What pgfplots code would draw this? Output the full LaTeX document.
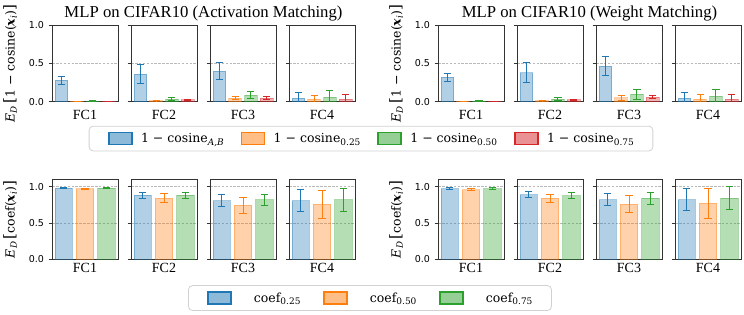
\documentclass[border=0pt]{standalone}
\usepackage{fontspec}
\setmainfont{Liberation Serif}
\newfontfamily\djsans{DejaVu Sans}
\newfontfamily\djserif{DejaVu Serif}
\usepackage{pgfplots}
\pgfplotsset{compat=1.18}
\definecolor{tabblue}{HTML}{1F77B4}
\definecolor{taborange}{HTML}{FF7F0E}
\definecolor{tabgreen}{HTML}{2CA02C}
\definecolor{tabred}{HTML}{D62728}
\pgfplotsset{
 bb/.style={ybar, bar width=0.8, bar shift=0pt, draw=#1, draw opacity=0.4, fill=#1, fill opacity=0.35, line width=0.8pt,
  legend image code/.code={\draw[sharp corners, fill=#1, fill opacity=0.5, draw=#1, draw opacity=1, line width=1.4pt] (0pt,-6pt) rectangle (23pt,6pt);},
  error bars/.cd, y dir=both, y explicit,
  error bar style={draw=#1, draw opacity=1, line width=0.9pt},
  error mark options={draw=#1, draw opacity=1, line width=0.9pt, mark size=3.6pt, rotate=90}},
 common/.style={scale only axis, width=66pt, anchor=south west, xtick=\empty, ytick={0,0.5,1}, ytick pos=left,
  tick align=outside, major tick length=3.5pt, tick style={black!80, line width=0.8pt},
  axis line style={black!80, line width=0.8pt}, ymajorgrids,
  major grid style={gray!55, dash pattern=on 2.6pt off 1.3pt, line width=0.6pt},
  yticklabels={},
  xlabel style={font=\fontsize{14}{14}\selectfont, at={(axis description cs:0.5,0)}, anchor=north, inner sep=0pt}},
 toprow/.style={common, height=76.7pt, ymin=0, ymax=1, xmin=-0.59, xmax=3.59, xlabel style={yshift=-8pt}},
 botrow/.style={common, height=80pt, ymin=0, ymax=1.1, xmin=-0.54, xmax=2.54, xlabel style={yshift=-4pt}},
 first/.style={yticklabels={0.0,0.5,1.0}, yticklabel style={font=\djsans\fontsize{9.5}{10}\selectfont, inner xsep=0pt, xshift=-4.3pt},
  ylabel style={font=\djserif\fontsize{12.5}{13}\selectfont, at={(axis description cs:-0.636,0.5)}, anchor=center}},
 leg/.style={legend style={at={(axis description cs:#1)}, anchor=center, draw=black!18, line width=0.8pt, rounded corners=4pt, fill=white,
  font=\djserif\fontsize{12.5}{13}\selectfont, inner xsep=19pt, inner ysep=5pt, legend cell align=left,
  nodes={inner xsep=0pt, inner ysep=2pt}}},
}
\newcommand{\brk}[1]{{\fontsize{15}{15}\selectfont #1}}
\newcommand{\sub}[1]{\raisebox{-2.6pt}{\fontsize{9}{9}\selectfont #1}}
\begin{document}
\begin{tikzpicture}
\node[font=\fontsize{16.7}{18}\selectfont, anchor=base] at (203.5pt,297pt) {MLP on CIFAR10 (Activation Matching)};
\node[font=\fontsize{16.7}{18}\selectfont, anchor=base] at (589.5pt,297pt) {MLP on CIFAR10 (Weight Matching)};

% ===== Top row, Activation Matching =====
\begin{axis}[toprow, first, at={(52pt,213.3pt)}, xlabel={FC1},
  ylabel={\textit{E}\textsubscript{\textit{D}}\,\brk{[}1 − cosine(\textbf{\textit{x}}\textsubscript{\textit{i}})\brk{]}},
  leg={4.833,-0.4805}, legend columns=4,
  legend style={/tikz/every odd column/.style={column sep=8.5pt}, /tikz/every even column/.style={column sep=17pt}}]
\addplot[bb=tabblue] coordinates {(0,0.28) +- (0,0.05)};
\addlegendentry{1 − cosine\sub{\textit{A,B}}}
\addplot[bb=taborange] coordinates {(1,0.004) +- (0,0.002)};
\addlegendentry{1 − cosine\sub{0.25}}
\addplot[bb=tabgreen] coordinates {(2,0.01) +- (0,0.003)};
\addlegendentry{1 − cosine\sub{0.50}}
\addplot[bb=tabred] coordinates {(3,0.005) +- (0,0.002)};
\addlegendentry{1 − cosine\sub{0.75}}
\end{axis}
\begin{axis}[toprow, at={(131pt,213.3pt)}, xlabel={FC2}]
\addplot[bb=tabblue] coordinates {(0,0.36) +- (0,0.12)};
\addplot[bb=taborange] coordinates {(1,0.015) +- (0,0.005)};
\addplot[bb=tabgreen] coordinates {(2,0.035) +- (0,0.022)};
\addplot[bb=tabred] coordinates {(3,0.025) +- (0,0.01)};
\end{axis}
\begin{axis}[toprow, at={(210pt,213.3pt)}, xlabel={FC3}]
\addplot[bb=tabblue] coordinates {(0,0.40) +- (0,0.11)};
\addplot[bb=taborange] coordinates {(1,0.045) +- (0,0.022)};
\addplot[bb=tabgreen] coordinates {(2,0.088) +- (0,0.047)};
\addplot[bb=tabred] coordinates {(3,0.048) +- (0,0.02)};
\end{axis}
\begin{axis}[toprow, at={(289pt,213.3pt)}, xlabel={FC4}]
\addplot[bb=tabblue] coordinates {(0,0.048) +- (0,0.073)};
\addplot[bb=taborange] coordinates {(1,0.035) +- (0,0.05)};
\addplot[bb=tabgreen] coordinates {(2,0.06) +- (0,0.092)};
\addplot[bb=tabred] coordinates {(3,0.035) +- (0,0.055)};
\end{axis}

% ===== Top row, Weight Matching =====
\begin{axis}[toprow, first, at={(438pt,213.3pt)}, xlabel={FC1},
  ylabel={\textit{E}\textsubscript{\textit{D}}\,\brk{[}1 − cosine(\textbf{\textit{x}}\textsubscript{\textit{i}})\brk{]}}]
\addplot[bb=tabblue] coordinates {(0,0.317) +- (0,0.057)};
\addplot[bb=taborange] coordinates {(1,0.003) +- (0,0.002)};
\addplot[bb=tabgreen] coordinates {(2,0.008) +- (0,0.003)};
\addplot[bb=tabred] coordinates {(3,0.004) +- (0,0.002)};
\end{axis}
\begin{axis}[toprow, at={(517pt,213.3pt)}, xlabel={FC2}]
\addplot[bb=tabblue] coordinates {(0,0.38) +- (0,0.133)};
\addplot[bb=taborange] coordinates {(1,0.015) +- (0,0.005)};
\addplot[bb=tabgreen] coordinates {(2,0.035) +- (0,0.024)};
\addplot[bb=tabred] coordinates {(3,0.025) +- (0,0.01)};
\end{axis}
\begin{axis}[toprow, at={(596pt,213.3pt)}, xlabel={FC3}]
\addplot[bb=tabblue] coordinates {(0,0.465) +- (0,0.122)};
\addplot[bb=taborange] coordinates {(1,0.052) +- (0,0.035)};
\addplot[bb=tabgreen] coordinates {(2,0.096) +- (0,0.064)};
\addplot[bb=tabred] coordinates {(3,0.06) +- (0,0.02)};
\end{axis}
\begin{axis}[toprow, at={(675pt,213.3pt)}, xlabel={FC4}]
\addplot[bb=tabblue] coordinates {(0,0.048) +- (0,0.07)};
\addplot[bb=taborange] coordinates {(1,0.035) +- (0,0.055)};
\addplot[bb=tabgreen] coordinates {(2,0.07) +- (0,0.095)};
\addplot[bb=tabred] coordinates {(3,0.035) +- (0,0.06)};
\end{axis}

% ===== Bottom row, Activation Matching =====
\begin{axis}[botrow, first, at={(52pt,55.7pt)}, xlabel={FC1},
  ylabel={\textit{E}\textsubscript{\textit{D}}\,\brk{[}coef(\textbf{\textit{x}}\textsubscript{\textit{i}})\brk{]}},
  leg={4.818,-0.484}, legend columns=3,
  legend style={/tikz/every odd column/.style={column sep=22pt}, /tikz/every even column/.style={column sep=23pt}}]
\addplot[bb=tabblue] coordinates {(0,0.977) +- (0,0.008)};
\addlegendentry{coef\sub{0.25}}
\addplot[bb=taborange] coordinates {(1,0.968) +- (0,0.01)};
\addlegendentry{coef\sub{0.50}}
\addplot[bb=tabgreen] coordinates {(2,0.977) +- (0,0.008)};
\addlegendentry{coef\sub{0.75}}
\end{axis}
\begin{axis}[botrow, at={(131pt,55.7pt)}, xlabel={FC2}]
\addplot[bb=tabblue] coordinates {(0,0.881) +- (0,0.043)};
\addplot[bb=taborange] coordinates {(1,0.84) +- (0,0.06)};
\addplot[bb=tabgreen] coordinates {(2,0.881) +- (0,0.041)};
\end{axis}
\begin{axis}[botrow, at={(210pt,55.7pt)}, xlabel={FC3}]
\addplot[bb=tabblue] coordinates {(0,0.808) +- (0,0.08)};
\addplot[bb=taborange] coordinates {(1,0.744) +- (0,0.108)};
\addplot[bb=tabgreen] coordinates {(2,0.817) +- (0,0.08)};
\end{axis}
\begin{axis}[botrow, at={(289pt,55.7pt)}, xlabel={FC4}]
\addplot[bb=tabblue] coordinates {(0,0.808) +- (0,0.148)};
\addplot[bb=taborange] coordinates {(1,0.758) +- (0,0.19)};
\addplot[bb=tabgreen] coordinates {(2,0.817) +- (0,0.155)};
\end{axis}

% ===== Bottom row, Weight Matching =====
\begin{axis}[botrow, first, at={(438pt,55.7pt)}, xlabel={FC1},
  ylabel={\textit{E}\textsubscript{\textit{D}}\,\brk{[}coef(\textbf{\textit{x}}\textsubscript{\textit{i}})\brk{]}}]
\addplot[bb=tabblue] coordinates {(0,0.973) +- (0,0.01)};
\addplot[bb=taborange] coordinates {(1,0.959) +- (0,0.012)};
\addplot[bb=tabgreen] coordinates {(2,0.973) +- (0,0.01)};
\end{axis}
\begin{axis}[botrow, at={(517pt,55.7pt)}, xlabel={FC2}]
\addplot[bb=tabblue] coordinates {(0,0.89) +- (0,0.04)};
\addplot[bb=taborange] coordinates {(1,0.836) +- (0,0.06)};
\addplot[bb=tabgreen] coordinates {(2,0.877) +- (0,0.045)};
\end{axis}
\begin{axis}[botrow, at={(596pt,55.7pt)}, xlabel={FC3}]
\addplot[bb=tabblue] coordinates {(0,0.822) +- (0,0.082)};
\addplot[bb=taborange] coordinates {(1,0.758) +- (0,0.115)};
\addplot[bb=tabgreen] coordinates {(2,0.84) +- (0,0.08)};
\end{axis}
\begin{axis}[botrow, at={(675pt,55.7pt)}, xlabel={FC4}]
\addplot[bb=tabblue] coordinates {(0,0.822) +- (0,0.15)};
\addplot[bb=taborange] coordinates {(1,0.772) +- (0,0.205)};
\addplot[bb=tabgreen] coordinates {(2,0.84) +- (0,0.16)};
\end{axis}

\pgfresetboundingbox
\useasboundingbox (0pt,0pt) rectangle (744pt,315pt);
\end{tikzpicture}
\end{document}
